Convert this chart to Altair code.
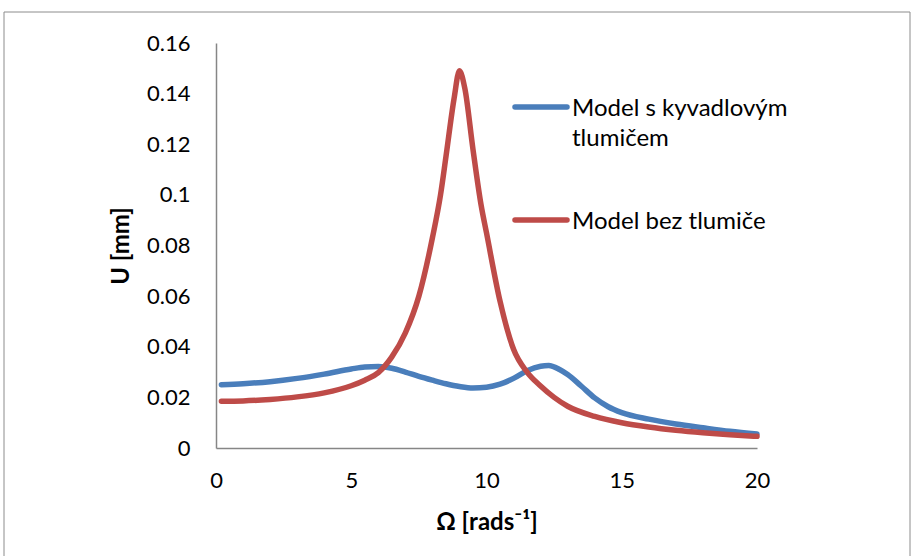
import altair as alt
import pandas as pd

blue_name = "Model s kyvadlovým tlumičem"
red_name = "Model bez tlumiče"
blue_label_lines = ["Model s kyvadlovým", "tlumičem"]
red_label_lines = ["Model bez tlumiče"]
blue_color = "#4A7EBB"
red_color = "#BE4B48"

blue_x = [0.2, 1, 2, 3, 4, 5, 5.5, 6, 6.5, 7, 7.5, 8, 8.5, 9, 9.5, 10, 10.5, 11, 11.5, 12, 12.3, 12.7, 13, 13.5, 14, 14.5, 15, 16, 17, 18, 19, 20]
blue_y = [0.0250, 0.0254, 0.0262, 0.0275, 0.0292, 0.0312, 0.0320, 0.0322, 0.0315, 0.0300, 0.0283, 0.0268, 0.0254, 0.0243, 0.0237, 0.0240, 0.0252, 0.0275, 0.0305, 0.0323, 0.0326, 0.0310, 0.0290, 0.0245, 0.0198, 0.0163, 0.0140, 0.0114, 0.0095, 0.0080, 0.0066, 0.0055]

red_x = [0.2, 1, 2, 3, 4, 5, 5.5, 6, 6.5, 7, 7.5, 8, 8.3, 8.5, 8.8, 9.0, 9.2, 9.5, 9.8, 10, 10.5, 11, 11.5, 12, 12.5, 13, 14, 15, 16, 17, 18, 19, 20]
red_y = [0.0185, 0.0186, 0.0192, 0.0202, 0.0218, 0.0246, 0.0268, 0.0298, 0.0360, 0.0455, 0.0600, 0.0830, 0.1000, 0.1150, 0.1380, 0.1490, 0.1420, 0.1180, 0.0960, 0.0850, 0.0580, 0.0390, 0.0300, 0.0245, 0.0200, 0.0165, 0.0125, 0.0100, 0.0083, 0.0070, 0.0060, 0.0052, 0.0046]

df = pd.concat([
    pd.DataFrame({"x": blue_x, "y": blue_y, "s": blue_name, "o": 0}),
    pd.DataFrame({"x": red_x, "y": red_y, "s": red_name, "o": 1}),
])

FONT = "Lato"
LW = 5.5

lines = alt.Chart(df).mark_line(strokeWidth=LW, strokeCap="round", strokeJoin="round", interpolate="monotone").encode(
    x=alt.X("x:Q", scale=alt.Scale(domain=[0, 20], nice=False),
            axis=alt.Axis(values=[0, 5, 10, 15, 20], title="Ω [rads⁻¹]", grid=False, ticks=False,
                          labelFlush=False, labelPadding=22, titlePadding=19)),
    y=alt.Y("y:Q", scale=alt.Scale(domain=[0, 0.16], nice=False),
            axis=alt.Axis(values=[0, 0.02, 0.04, 0.06, 0.08, 0.1, 0.12, 0.14, 0.16], format="~g",
                          title="U [mm]", grid=False, ticks=False, labelFlush=False,
                          labelPadding=26, titlePadding=13)),
    color=alt.Color("s:N", scale=alt.Scale(domain=[blue_name, red_name], range=[blue_color, red_color]),
                    legend=None),
    order="o:Q",
    detail="s:N",
)

one = pd.DataFrame({"a": [0]})

border = alt.Chart(one).mark_rect(fill=None, stroke="#8c8c8c", strokeWidth=1).encode(
    x=alt.value(-212), x2=alt.value(694), y=alt.value(-31), y2=alt.value(520)
)

def legend_entry(lines_text, color, y_sym):
    sym = alt.Chart(one).mark_rule(strokeWidth=LW, strokeCap="round", color=color).encode(
        x=alt.value(299), x2=alt.value(351), y=alt.value(y_sym)
    )
    txt = alt.Chart(one).mark_text(align="left", baseline="alphabetic", font=FONT, fontSize=24,
                                   lineHeight=30, color="#000000",
                                   text=lines_text if len(lines_text) > 1 else lines_text[0]).encode(
        x=alt.value(356), y=alt.value(y_sym + 9)
    )
    return sym + txt

legend_blue = legend_entry(blue_label_lines, blue_color, 64)
legend_red = legend_entry(red_label_lines, red_color, 177)

chart = alt.layer(border, lines, legend_blue, legend_red).properties(
    width=541, height=405,
    background="white",
    padding={"left": 216, "top": 43, "right": 154, "bottom": 108},
    autosize=alt.AutoSizeParams(type="none"),
).configure_view(stroke=None).configure_axis(
    domainColor="#868686", domainWidth=1.5,
    labelFont=FONT, labelFontSize=22, labelColor="#000000",
    titleFont=FONT, titleFontSize=24, titleFontWeight="bold", titleColor="#000000",
)

chart.save("out.html", embed_options={"renderer": "svg", "actions": False})
